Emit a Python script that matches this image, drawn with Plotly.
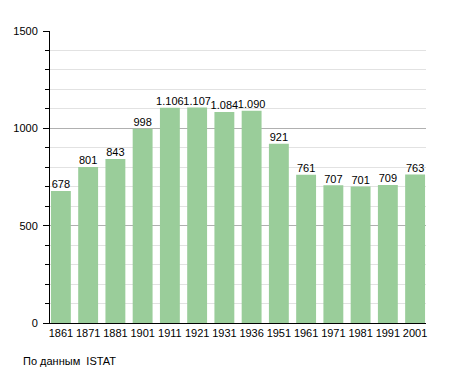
import plotly.graph_objects as go

years = ["1861", "1871", "1881", "1901", "1911", "1921", "1931", "1936",
         "1951", "1961", "1971", "1981", "1991", "2001"]
population = [678, 801, 843, 998, 1106, 1107, 1084, 1090, 921, 761, 707, 701, 709, 763]
y_ticks = [0, 500, 1000, 1500]
source_note = "По данным  ISTAT"

FONT = "Liberation Sans, Arial"

fig = go.Figure()
fig.add_trace(go.Bar(
    x=years, y=population,
    marker=dict(color="#9acd9a", line=dict(width=0)),
    width=0.73, hoverinfo="x+y",
))
fig.add_trace(go.Scatter(
    x=years, y=population, mode="text",
    texttemplate="%{y:,d}", textposition="top center",
    textfont=dict(family=FONT, size=11, color="#000"),
    cliponaxis=False, hoverinfo="skip",
))

# page body has an 8px margin, so offsets are compensated
L, T, R, B = 42, 23, 37, 58
fig.update_layout(
    width=455, height=373,
    margin=dict(l=L, r=R, t=T, b=B, autoexpand=False),
    plot_bgcolor="white", paper_bgcolor="white",
    separators=",.",
    showlegend=False,
    font=dict(family=FONT, size=11, color="#000"),
    xaxis=dict(
        type="category", range=[-0.4, len(years) - 0.6],
        showline=True, linecolor="#000", linewidth=1,
        ticks="", showgrid=False, tickfont=dict(size=11), tickangle=0,
        automargin=False, ticklabelstandoff=0,
    ),
    yaxis=dict(
        range=[0, 1500], tickvals=y_ticks, showline=True, linecolor="#000",
        linewidth=1, ticks="outside", ticklen=6, tickcolor="#000",
        gridcolor="#b0b0b0", gridwidth=1, zeroline=False,
        ticklabelstandoff=3, automargin=False,
        minor=dict(dtick=100, ticks="outside", ticklen=4, tickcolor="#000",
                   showgrid=True, gridcolor="#e2e2e2", gridwidth=1),
        tickfont=dict(size=11),
    ),
)
pw = 455 - L - R
ph = 373 - T - B
fig.add_annotation(text=source_note, xref="paper", yref="paper",
                   x=(13 - L) / pw, y=-(353 - (373 - B)) / ph,
                   xanchor="left", yanchor="middle", showarrow=False,
                   font=dict(family=FONT, size=11, color="#000"))
fig.write_html("out.html")
